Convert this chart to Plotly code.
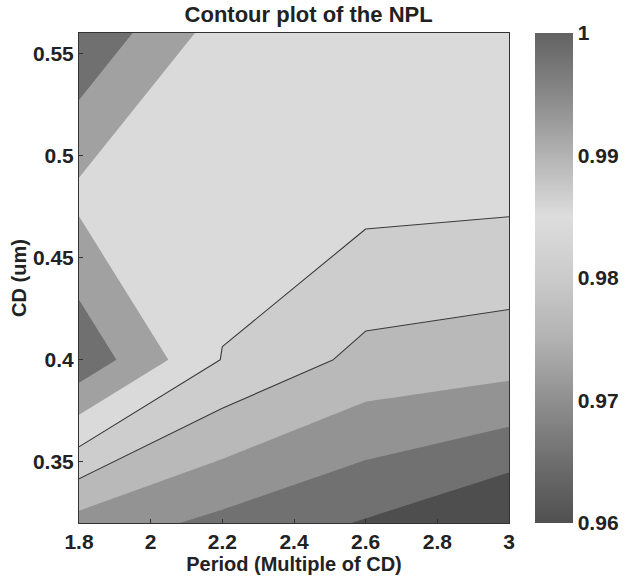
import plotly.graph_objects as go

# Grid of the simulation: period (multiples of CD) and CD in microns
period = [1.8, 2.2, 2.6, 3.0]
cd_um = [0.32, 0.40, 0.48, 0.56]

# NPL values, one row per CD value (rows follow cd_um, columns follow period)
npl_032 = [0.9731, 0.9687, 0.9646, 0.9595]
npl_040 = [0.9986, 0.9848, 0.9786, 0.9773]
npl_048 = [0.9888, 0.9873, 0.9866, 0.9861]
npl_056 = [0.9993, 0.9878, 0.9870, 0.9880]
npl = [npl_032, npl_040, npl_048, npl_056]

# Contour levels
level_start, level_end, level_step = 0.96, 1.0, 0.005
line_levels = (0.98, 0.985)

# Gray shades of the filled bands, lowest band first
band_grays = ["#4e4e4e", "#717171", "#939393", "#b9b9b9",
              "#cdcdcd", "#dadada", "#a1a1a1", "#707070"]

# Continuous gray map shown in the colour bar
bar_scale = [
    [0.0, "#505050"], [0.125, "#6e6e6e"], [0.25, "#8f8f8f"],
    [0.375, "#b2b2b2"], [0.5, "#cbcbcb"], [0.625, "#dddddd"],
    [0.75, "#b3b3b3"], [0.875, "#888888"], [1.0, "#626262"],
]

# Stepped colour scale for the filled contours
n_levels = round((level_end - level_start) / level_step) + 1
lo = level_start - level_step / 2
span = n_levels * level_step


def frac(v):
    return min(max((v - lo) / span, 0.0), 1.0)


fill_scale = []
for k, g in enumerate(band_grays):
    a = 0.0 if k == 0 else frac(level_start + level_step * k)
    b = 1.0 if k == len(band_grays) - 1 else frac(level_start + level_step * (k + 1))
    fill_scale.append([a, g])
    fill_scale.append([b, g])

font_family = "Liberation Sans, Arial, sans-serif"
tick_font = dict(family=font_family, size=21, color="#222", weight="bold")

fig = go.Figure()

# Filled bands, straight segments between grid lines
fig.add_trace(go.Contour(
    x=period, y=cd_um, z=npl,
    autocontour=False,
    contours=dict(start=level_start, end=level_end, size=level_step,
                  coloring="fill", showlines=False),
    line=dict(width=0, smoothing=0),
    colorscale=fill_scale,
    showscale=False,
    hoverinfo="skip",
))

# The two outlined iso-lines
fig.add_trace(go.Contour(
    x=period, y=cd_um, z=npl,
    autocontour=False,
    contours=dict(start=line_levels[0], end=line_levels[1], size=level_step,
                  coloring="none"),
    line=dict(color="#3a3a3a", width=1.1, smoothing=0),
    showscale=False,
    hoverinfo="skip",
))

# Trace that carries the continuous colour bar
fig.add_trace(go.Scatter(
    x=[period[0]], y=[cd_um[0]], mode="markers",
    marker=dict(size=1, opacity=0, color=[level_start],
                cmin=level_start, cmax=level_end,
                colorscale=bar_scale, showscale=True,
                colorbar=dict(
                    thickness=38, len=1, lenmode="fraction",
                    y=0.5, yanchor="middle",
                    x=1.058, xanchor="left", xpad=0, ypad=0,
                    outlinewidth=0,
                    tickvals=[0.96, 0.97, 0.98, 0.99, 1.0],
                    ticktext=["0.96", "0.97", "0.98", "0.99", "1"],
                    ticks="", ticklabelposition="outside",
                    tickfont=tick_font,
                )),
    hoverinfo="skip", showlegend=False,
))

axis_common = dict(
    showline=True, linecolor="#333", linewidth=1, mirror=True,
    ticks="inside", ticklen=4, tickcolor="#333",
    showgrid=False, zeroline=False,
    tickfont=tick_font,
)

fig.update_layout(
    width=625, height=582,
    margin=dict(l=79, r=115, t=33, b=59),
    paper_bgcolor="white", plot_bgcolor="white",
    showlegend=False,
    title=dict(text="Contour plot of the NPL",
               x=0.534, xref="paper", xanchor="center",
               y=1 - 14 / 582, yref="container", yanchor="middle",
               font=dict(family=font_family, size=22, color="#222",
                         weight="bold")),
    xaxis=dict(range=[1.8, 3.0], tickvals=[1.8, 2.0, 2.2, 2.4, 2.6, 2.8, 3.0],
               ticktext=["1.8", "2", "2.2", "2.4", "2.6", "2.8", "3"],
               title=dict(text="Period (Multiple of CD)", standoff=4,
                          font=dict(family=font_family, size=20,
                                    color="#222", weight="bold")),
               **axis_common),
    yaxis=dict(range=[0.32, 0.56], tickvals=[0.35, 0.4, 0.45, 0.5, 0.55],
               ticktext=["0.35", "0.4", "0.45", "0.5", "0.55"],
               title=dict(text="CD (um)", standoff=0,
                          font=dict(family=font_family, size=20,
                                    color="#222", weight="bold")),
               **axis_common),
)

fig.write_html("out.html")
